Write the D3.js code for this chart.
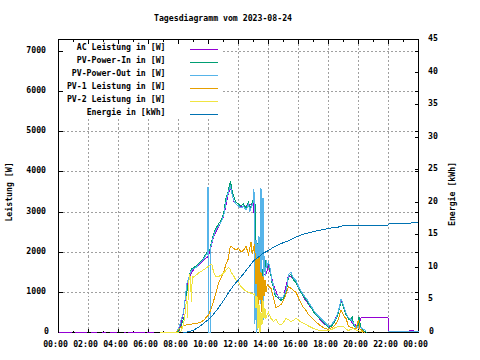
<!DOCTYPE html>
<html><head><meta charset="utf-8">
<script src="https://cdn.jsdelivr.net/npm/d3@7"></script>
<style>
body{margin:0;background:#fff}
svg{display:block}
text{font-family:'DejaVu Sans Mono',monospace;font-size:8.2px;font-weight:bold;fill:#000}
</style></head>
<body><svg id="c" width="480" height="360"></svg>
<script>
const title = "Tagesdiagramm vom 2023-08-24";
const yLeftLabel = "Leistung [W]";
const yRightLabel = "Energie [kWh]";
const seriesNames = ["AC Leistung in [W]","PV-Power-In in [W]","PV-Power-Out in [W]","PV-1 Leistung in [W]","PV-2 Leistung in [W]","Energie in [kWh]"];
const seriesColors = ["#9400d3","#009e73","#56b4e9","#e69f00","#f0e442","#0072b2"];
const xTickHours = [0,2,4,6,8,10,12,14,16,18,20,22,24];
const yLeftTicks = [0,1000,2000,3000,4000,5000,6000,7000];
const yRightTicks = [0,5,10,15,20,25,30,35,40,45];

const acT = ["00:02","00:53","00:54","01:06","01:55","01:56","02:09","02:33","02:34","02:53","03:10","03:11","03:26","03:53","03:54","04:22","04:30","04:31","04:39","05:46","05:47","05:53","06:22","06:23",
 "08:00","08:20","08:28","08:40","09:00","09:20","09:40","10:00","10:20","10:40","11:00","11:20","11:30","11:40","12:00","12:20","12:40","13:00","13:10","13:30","13:50","14:00","14:20","14:40","15:00","15:20","15:40","16:00","16:20","16:40","17:00","17:20","17:40","18:00","18:20","18:40","18:50","19:00","19:20","19:40","20:00","20:10","20:15","20:30","21:00","21:30","21:58","21:59","22:00","23:20","23:40"];
const ac = [0,0,null,0,0,null,0,0,null,0,0,null,0,0,null,0,0,null,0,0,null,0,0,null,
 0,480,880,1330,1570,1670,1800,1900,2380,2630,2880,3480,3620,3280,3130,3130,3180,3230,2000,1450,1450,1650,1180,880,880,1430,1330,1120,880,700,540,370,230,140,240,500,800,640,350,210,150,360,380,370,375,380,380,0,null,60,60];

const pvInT = ["07:50","08:00","08:10","08:20","08:28","08:33","08:40","08:48","08:55","09:00","09:10","09:20","09:30","09:40","09:50","10:00","10:05","10:10","10:20","10:30","10:40","10:50","11:00","11:05","11:10","11:15","11:20","11:25","11:28","11:32","11:40","11:50","12:00","12:10","12:20","12:30","12:40","12:45","12:50","13:00","13:05","13:10","13:15","13:20","13:25","13:30","13:35","13:40","13:45","13:50","13:55","14:00","14:05","14:10","14:15","14:20","14:25","14:30","14:40","14:50","15:00","15:10","15:15","15:20","15:30","15:40","15:50","16:00","16:10","16:20","16:30","16:40","16:50","17:00","17:10","17:20","17:30","17:40","17:50","18:00","18:10","18:20","18:30","18:40","18:50","18:55","19:00","19:10","19:20","19:30","19:35","19:40","19:50","20:00","20:02","20:08","20:15","20:25","20:35"];
const pvIn = [0,30,150,350,500,1000,1250,1550,1600,1620,1650,1720,1780,1850,1960,2050,2050,2200,2450,2600,2700,2800,2950,3150,3350,3450,3550,3700,3780,3600,3400,3250,3200,3150,3200,3100,3250,3050,3150,3350,3500,2200,2100,2300,2000,1600,1400,1700,1500,1800,1600,1750,1600,1400,1200,1150,950,900,850,800,850,1000,1150,1400,1450,1300,1250,1100,1000,900,820,720,620,520,430,370,310,250,190,120,150,220,330,500,760,720,620,450,330,300,420,200,80,200,380,150,70,20,0];

const pvOutT = ["07:50","08:00","08:10","08:20","08:28","08:33","08:40","08:48","08:55","09:00","09:10","09:20","09:30","09:40","09:50","09:55","09:58","10:00","10:07","10:10","10:20","10:30","10:40","10:50","11:00","11:05","11:10","11:15","11:20","11:25","11:28","11:32","11:40","11:50","12:00","12:10","12:20","12:30","12:40","12:45","12:50","13:00","13:02","13:04","13:06","13:08","13:10","13:12","13:14","13:16","13:18","13:20","13:22","13:24","13:26","13:28","13:30","13:32","13:34","13:36","13:38","13:40","13:42","13:44","13:48","13:52","13:56","14:00","14:05","14:10","14:15","14:20","14:25","14:30","14:40","14:50","15:00","15:10","15:15","15:20","15:30","15:40","15:50","16:00","16:10","16:20","16:30","16:40","16:50","17:00","17:10","17:20","17:30","17:40","17:50","18:00","18:10","18:20","18:30","18:40","18:50","18:55","19:00","19:10","19:20","19:30","19:40","19:50","20:00","20:10","20:20","20:30","20:31","21:58","24:00"];
const pvOut = [0,100,300,500,900,1200,1350,1500,1570,1590,1620,1690,1750,1820,1930,1950,3620,0,0,2150,2400,2560,2650,2750,2900,3050,3250,3400,3500,3600,3650,3500,3300,3200,3150,3100,3150,3050,3200,3000,3100,3250,3580,1500,200,2000,2300,500,0,2200,1900,400,2400,2000,1500,3600,700,3580,2500,1800,3350,300,1500,1900,1400,1800,1650,1750,1650,1450,1250,1200,1000,950,900,850,900,1050,1200,1450,1500,1350,1300,1140,1040,940,860,760,660,560,470,410,350,290,230,160,190,260,370,540,820,770,660,490,370,330,230,120,150,120,80,50,null,30,30];

const pv1T = ["07:50","08:00","08:10","08:20","08:30","08:45","09:00","09:15","09:30","09:40","09:50","10:00","10:10","10:20","10:30","10:40","10:50","11:00","11:10","11:20","11:25","11:30","11:40","11:50","12:00","12:10","12:20","12:30","12:40","12:50","12:55","13:00","13:05","13:10","13:14","13:18","13:22","13:26","13:30","13:34","13:38","13:42","13:46","13:50","13:55","14:00","14:10","14:20","14:30","14:40","14:50","15:00","15:10","15:20","15:30","15:40","15:50","16:00","16:10","16:20","16:30","16:40","16:50","17:00","17:10","17:20","17:30","17:40","17:50","18:00","18:10","18:20","18:30","18:40","18:50","18:55","19:00","19:10","19:20","19:30","19:40","19:50","20:00","20:05","20:15","20:25"];
const pv1 = [0,80,130,170,190,200,220,230,260,300,370,440,580,780,980,1230,1350,1500,1700,1850,2100,2150,2100,2050,2100,2000,2050,2150,1950,2250,1950,2100,2200,1200,1850,600,1900,800,1500,500,1400,900,1300,1000,1200,1150,1100,870,620,650,700,800,950,1150,1100,1050,1000,870,740,620,550,450,380,320,260,210,160,120,90,80,110,150,220,330,570,500,420,350,160,120,110,80,320,100,40,0];

const pv2T = ["06:45","07:50","08:00","08:10","08:20","08:25","08:30","08:33","08:36","08:40","08:45","08:48","08:52","08:55","09:00","09:10","09:20","09:30","09:40","09:50","10:00","10:10","10:15","10:20","10:30","10:40","10:50","11:00","11:10","11:20","11:25","11:30","11:40","11:50","12:00","12:10","12:20","12:30","12:40","12:50","13:00","13:05","13:10","13:14","13:18","13:22","13:26","13:30","13:34","13:38","13:42","13:46","13:50","13:55","14:00","14:10","14:20","14:30","14:40","14:50","15:00","15:10","15:20","15:30","15:40","15:50","16:00","16:10","16:20","16:30","16:40","16:50","17:00","17:10","17:20","17:30","17:40","17:50","18:00","18:10","18:20","18:30","18:40","18:50","19:00","19:10","19:20","19:30","19:40","19:50","20:00","20:10","20:20"];
const pv2 = [10,10,10,30,200,400,700,900,350,1200,1450,1300,750,1400,1380,1430,1480,1520,1560,1600,1650,1700,1680,1500,1380,1400,1420,1480,1550,1620,1600,1500,1420,1300,1250,1150,1080,1030,1000,980,950,980,600,900,100,700,0,500,200,800,350,600,350,450,500,350,280,330,220,190,250,350,320,270,300,360,310,260,230,200,160,130,100,80,60,50,40,40,50,70,100,130,150,160,160,80,50,80,100,60,40,20,0];

const energyT = ["08:20","08:40","09:00","09:20","09:40","10:00","10:20","10:40","11:00","11:20","11:40","12:00","12:20","12:40","13:00","13:20","13:40","14:00","14:20","14:40","15:00","15:20","15:40","16:00","16:20","16:40","17:00","17:20","17:40","18:00","18:20","18:40","19:00","19:10","21:58","22:00","23:00","24:00"];
const energy = [0,0.1,0.35,0.8,1.4,2.0,2.8,3.8,4.9,6.1,7.2,8.1,9.0,10.0,11.0,11.6,12.2,12.6,13.1,13.5,13.8,14.1,14.5,14.8,15.1,15.3,15.5,15.7,15.8,16.0,16.1,16.2,16.4,16.5,16.5,16.66,16.77,16.86];

const hrs = s => { const [h,m] = s.split(':').map(Number); return h + m/60; };

const svg = d3.select('#c');
svg.append('rect').attr('width',480).attr('height',360).attr('fill','#fff');

const L = 58.5, R = 418.5, T = 39.5, B = 332.5;
const x = d3.scaleLinear().domain([0,24]).range([L,R]);
const yL = d3.scaleLinear().domain([0,7300]).range([B,T]);
const yR = d3.scaleLinear().domain([0,45]).range([B,T]);
const snap = v => Math.floor(v) + 0.5;

// grid
const grid = svg.append('g').attr('stroke','#a0a0a0').attr('stroke-dasharray','2,2').attr('shape-rendering','crispEdges');
grid.selectAll('line.h').data(yLeftTicks.filter(d=>d>0)).join('line').attr('class','h')
  .attr('x1',L).attr('x2',R).attr('y1',d=>snap(yL(d))).attr('y2',d=>snap(yL(d)));
grid.selectAll('line.v').data(xTickHours.filter(d=>d>0&&d<24)).join('line').attr('class','v')
  .attr('y1',T).attr('y2',B).attr('x1',d=>snap(x(d))).attr('x2',d=>snap(x(d)));

// legend background
svg.append('rect').attr('x',59).attr('y',40).attr('width',164).attr('height',79).attr('fill','#fff');

// border
svg.append('rect').attr('x',L).attr('y',T).attr('width',R-L).attr('height',B-T)
  .attr('fill','none').attr('stroke','#000').attr('shape-rendering','crispEdges');

const fmtH = d => String(d%24).padStart(2,'0') + ':00';
function styleAxis(g){
  g.select('.domain').remove();
  g.selectAll('.tick line').attr('stroke','#000').attr('shape-rendering','crispEdges');
  g.attr('font-size',null).attr('font-family',null);
}
// bottom axis
const gB = svg.append('g').attr('transform',`translate(0,${B})`)
  .call(d3.axisBottom(x).tickValues(xTickHours).tickSize(-4).tickPadding(0).tickFormat(fmtH).offset(0));
styleAxis(gB);
gB.selectAll('.tick text').attr('dy',null).attr('y',14.5).attr('dx',-3);
const gBm = svg.append('g').attr('transform',`translate(0,${B})`)
  .call(d3.axisBottom(x).tickValues(d3.range(1,24,2)).tickSize(-2).tickFormat('').offset(0));
styleAxis(gBm);
// top axis
const gT = svg.append('g').attr('transform',`translate(0,${T})`)
  .call(d3.axisTop(x).tickValues(xTickHours).tickSize(-4).tickFormat('').offset(0));
styleAxis(gT);
const gTm = svg.append('g').attr('transform',`translate(0,${T})`)
  .call(d3.axisTop(x).tickValues(d3.range(1,24,2)).tickSize(-2).tickFormat('').offset(0));
styleAxis(gTm);
// left axis
const gL = svg.append('g').attr('transform',`translate(${L},0)`)
  .call(d3.axisLeft(yL).tickValues(yLeftTicks).tickSize(-4).tickFormat(d=>String(d)).offset(0));
styleAxis(gL);
gL.selectAll('.tick').attr('transform',d=>`translate(0,${snap(yL(d))})`);
gL.selectAll('.tick text').attr('dy',null).attr('y',1.5).attr('x',d=>d===0?-9.5:-12.5);
// right mirror of left ticks
const gRm = svg.append('g').attr('transform',`translate(${R},0)`)
  .call(d3.axisRight(yL).tickValues(yLeftTicks.filter(d=>d>0)).tickSize(-4).tickFormat('').offset(0));
styleAxis(gRm);
gRm.selectAll('.tick').attr('transform',d=>`translate(0,${snap(yL(d))})`);
// right y2 axis
const gR = svg.append('g').attr('transform',`translate(${R},0)`)
  .call(d3.axisRight(yR).tickValues(yRightTicks).tickSize(-4).tickFormat(d=>String(d)).offset(0));
styleAxis(gR);
gR.selectAll('.tick').attr('transform',d=>`translate(0,${snap(yR(d))})`);
gR.selectAll('.tick text').attr('dy',null).attr('y',1.5).attr('x',d=>d===0?10.5:9.5).attr('text-anchor','start');

// titles
svg.append('text').attr('x',154).attr('y',21).text(title);
svg.append('text').attr('transform','translate(12,192) rotate(-90)').attr('text-anchor','middle').text(yLeftLabel);
svg.append('text').attr('transform','translate(455,194) rotate(-90)').attr('text-anchor','middle').text(yRightLabel);

// data
const zip = (t,v) => t.map((s,i)=>[hrs(s), v[i]]);
const series = [
  {d: zip(acT,ac), y: yL},
  {d: zip(pvInT,pvIn), y: yL},
  {d: zip(pvOutT,pvOut), y: yL},
  {d: zip(pv1T,pv1), y: yL},
  {d: zip(pv2T,pv2), y: yL},
  {d: zip(energyT,energy), y: yR}
];
const plot = svg.append('g');
series.forEach((s,i)=>{
  const line = d3.line().defined(d=>d[1]!=null).x(d=>x(d[0])).y(d=>Math.min(s.y(d[1]),B));
  plot.append('path').attr('d',line(s.d)).attr('fill','none')
    .attr('stroke',seriesColors[i]).attr('stroke-width',1).attr('shape-rendering','crispEdges');
});

// legend
const lg = svg.append('g');
seriesNames.forEach((n,i)=>{
  const yy = 50 + 13*i;
  lg.append('text').attr('x',165.5).attr('y',yy).attr('text-anchor','end').text(n);
  lg.append('rect').attr('x',190).attr('y',yy-1).attr('width',28).attr('height',1)
    .attr('fill',seriesColors[i]).attr('shape-rendering','crispEdges');
});
</script></body></html>
